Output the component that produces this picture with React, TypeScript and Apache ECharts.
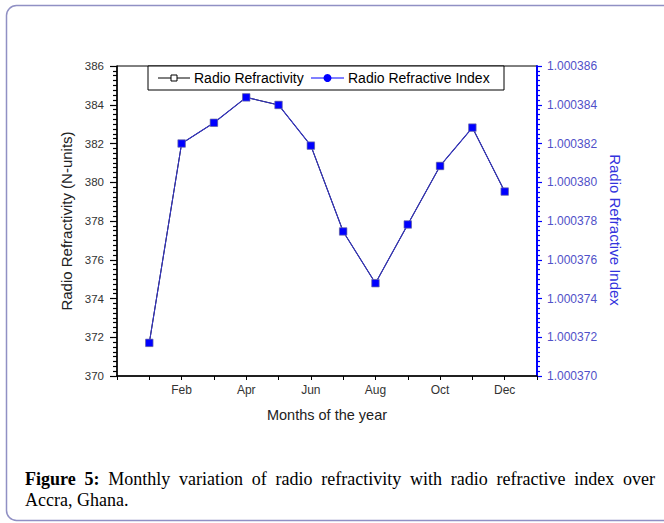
import React, { useEffect, useRef } from "react";
import * as echarts from "echarts";

// ---- data ----
const months: number[] = [1, 2, 3, 4, 5, 6, 7, 8, 9, 10, 11, 12];
const monthNames: string[] = ["Jan", "Feb", "Mar", "Apr", "May", "Jun", "Jul", "Aug", "Sep", "Oct", "Nov", "Dec"];
const refractivity: number[] = [371.71, 382.0, 383.07, 384.38, 383.99, 381.89, 377.46, 374.79, 377.82, 380.84, 382.82, 379.52];
const refractiveIndex: number[] = [
  1.00037171, 1.000382, 1.00038307, 1.00038438, 1.00038399, 1.00038189,
  1.00037746, 1.00037479, 1.00037782, 1.00038084, 1.00038282, 1.00037952,
];
const leftAxisRange: number[] = [370, 386, 2];
const rightAxisRange: number[] = [1.00037, 1.000386, 0.000002];
const xAxisRange: number[] = [0, 13, 1];
const labelledMonths: string[] = ["Feb", "Apr", "Jun", "Aug", "Oct", "Dec"];

const seriesNames: string[] = ["Radio Refractivity", "Radio Refractive Index"];
const axisTitles: string[] = ["Months of the year", "Radio Refractivity (N-units)", "Radio Refractive Index"];
const captionBold = "Figure 5:";
const captionLine1 = "Monthly variation of radio refractivity with radio refractive index over";
const captionLine2 = "Accra, Ghana.";

const SANS = "'Liberation Sans', Arial, sans-serif";
const SERIF = "'Liberation Serif', 'Times New Roman', serif";

function buildCaption(): any[] {
  const canvas = document.createElement("canvas");
  const ctx = canvas.getContext("2d") as CanvasRenderingContext2D;
  const fs = 18;
  const words: { t: string; b: boolean }[] = [];
  captionBold.split(" ").forEach((t) => words.push({ t, b: true }));
  captionLine1.split(" ").forEach((t) => words.push({ t, b: false }));
  const widths = words.map((w) => {
    ctx.font = `${w.b ? "bold " : ""}${fs}px ${SERIF}`;
    return ctx.measureText(w.t).width;
  });
  const x0 = 25;
  const x1 = 655;
  const total = widths.reduce((a, b) => a + b, 0);
  const gap = (x1 - x0 - total) / (words.length - 1);
  const els: any[] = [];
  let x = x0;
  words.forEach((w, i) => {
    els.push({
      type: "text",
      x,
      y: 479,
      silent: true,
      style: {
        text: w.t,
        fontSize: fs,
        fontFamily: SERIF,
        fontWeight: w.b ? "bold" : "normal",
        fill: "#000",
        textAlign: "left",
        textVerticalAlign: "middle",
      },
    });
    x += widths[i] + gap;
  });
  els.push({
    type: "text",
    x: x0,
    y: 500,
    silent: true,
    style: {
      text: captionLine2,
      fontSize: fs,
      fontFamily: SERIF,
      fill: "#000",
      textAlign: "left",
      textVerticalAlign: "middle",
    },
  });
  return els;
}

export default function App() {
  const ref = useRef<HTMLDivElement>(null);
  useEffect(() => {
    if (!ref.current) return;
    const chart = echarts.init(ref.current, undefined, { renderer: "svg" });

    const legendY = 78;
    const legendEls: any[] = [
      {
        type: "rect",
        shape: { x: 148, y: 66, width: 356, height: 24 },
        style: { fill: "#fff", stroke: "#000", lineWidth: 1 },
        z: 10,
        silent: true,
      },
      { type: "line", shape: { x1: 158, y1: legendY, x2: 190, y2: legendY }, style: { stroke: "#000", lineWidth: 1 }, z: 11, silent: true },
      { type: "rect", shape: { x: 171, y: legendY - 3, width: 6, height: 6 }, style: { fill: "#fff", stroke: "#000", lineWidth: 1 }, z: 12, silent: true },
      {
        type: "text", x: 194, y: legendY, z: 12, silent: true,
        style: { text: seriesNames[0], fontSize: 14, fontFamily: SANS, fill: "#000", textAlign: "left", textVerticalAlign: "middle" },
      },
      { type: "line", shape: { x1: 311, y1: legendY, x2: 344, y2: legendY }, style: { stroke: "#0000ff", lineWidth: 1 }, z: 11, silent: true },
      { type: "circle", shape: { cx: 327.5, cy: legendY, r: 4 }, style: { fill: "#0000ff" }, z: 12, silent: true },
      {
        type: "text", x: 348, y: legendY, z: 12, silent: true,
        style: { text: seriesNames[1], fontSize: 14, fontFamily: SANS, fill: "#000", textAlign: "left", textVerticalAlign: "middle" },
      },
    ];

    const option: any = {
      animation: false,
      backgroundColor: "#fff",
      grid: {
        left: 117,
        right: 127,
        top: 66,
        bottom: 147,
        show: true,
        borderColor: "#000",
        borderWidth: 1,
        backgroundColor: "transparent",
      },
      xAxis: {
        type: "value",
        min: xAxisRange[0],
        max: xAxisRange[1],
        interval: xAxisRange[2],
        name: axisTitles[0],
        nameLocation: "middle",
        nameGap: 31,
        nameTextStyle: { fontSize: 14.5, fontFamily: SANS, color: "#222" },
        axisLine: { show: true, lineStyle: { color: "#000", width: 1.5 } },
        axisTick: { show: true, length: 4, lineStyle: { color: "#000", width: 1 } },
        axisLabel: {
          fontSize: 12,
          fontFamily: SANS,
          color: "#333",
          margin: 8,
          showMinLabel: true,
          showMaxLabel: true,
          formatter: (v: number) => {
            const name = monthNames[Math.round(v) - 1];
            return name && labelledMonths.indexOf(name) >= 0 ? name : "";
          },
        },
        splitLine: { show: false },
      },
      yAxis: [
        {
          type: "value",
          position: "left",
          min: leftAxisRange[0],
          max: leftAxisRange[1],
          interval: leftAxisRange[2],
          name: axisTitles[1],
          nameLocation: "middle",
          nameRotate: 90,
          nameGap: 42,
          nameTextStyle: { fontSize: 15, fontFamily: SANS, color: "#222" },
          axisLine: { show: true, lineStyle: { color: "#000", width: 1.5 } },
          axisTick: { show: true, length: 7, lineStyle: { color: "#000", width: 1.2 } },
          minorTick: { show: true, splitNumber: 8, length: 4, lineStyle: { color: "#000", width: 1.2 } },
          axisLabel: { fontSize: 11.5, fontFamily: SANS, color: "#333", margin: 13 },
          splitLine: { show: false },
          minorSplitLine: { show: false },
        },
        {
          type: "value",
          position: "right",
          min: rightAxisRange[0],
          max: rightAxisRange[1],
          interval: rightAxisRange[2],
          name: axisTitles[2],
          nameLocation: "middle",
          nameRotate: -90,
          nameGap: 70,
          nameTextStyle: { fontSize: 15, fontFamily: SANS, color: "#3333dd", padding: [0, 0, 0, 18] },
          axisLine: { show: true, lineStyle: { color: "#0000ff", width: 2 } },
          axisTick: { show: true, length: 5, lineStyle: { color: "#0000ff", width: 1.2 } },
          minorTick: { show: true, splitNumber: 8, length: 3, lineStyle: { color: "#0000ff", width: 1.2 } },
          axisLabel: {
            fontSize: 12,
            fontFamily: SANS,
            color: "#5050c8",
            margin: 10,
            formatter: (v: number) => v.toFixed(6),
          },
          splitLine: { show: false },
          minorSplitLine: { show: false },
        },
      ],
      series: [
        {
          name: seriesNames[0],
          type: "line",
          yAxisIndex: 0,
          data: months.map((m, i) => [m, refractivity[i]]),
          symbol: "rect",
          symbolSize: 6,
          itemStyle: { color: "#fff", borderColor: "#000", borderWidth: 1 },
          lineStyle: { color: "#000", width: 1 },
          z: 2,
        },
        {
          name: seriesNames[1],
          type: "line",
          yAxisIndex: 1,
          data: months.map((m, i) => [m, refractiveIndex[i]]),
          symbol: "rect",
          symbolSize: 7.5,
          itemStyle: { color: "#0000ff", borderColor: "#7070a8", borderWidth: 0.7 },
          lineStyle: { color: "#3535c8", width: 1.1 },
          z: 3,
        },
      ],
      graphic: [
        {
          type: "rect",
          shape: { x: 6.5, y: 5.5, width: 700, height: 515, r: 10 },
          style: { fill: "none", stroke: "#9090c4", lineWidth: 1.5 },
          silent: true,
          z: 0,
        },
        ...legendEls,
        ...buildCaption(),
      ],
    };
    chart.setOption(option);
    return () => chart.dispose();
  }, []);

  return (
    <div style={{ position: "absolute", left: 0, top: 0, width: 664, height: 523, background: "#fff" }}>
      <div ref={ref} style={{ width: 664, height: 523 }} />
    </div>
  );
}
